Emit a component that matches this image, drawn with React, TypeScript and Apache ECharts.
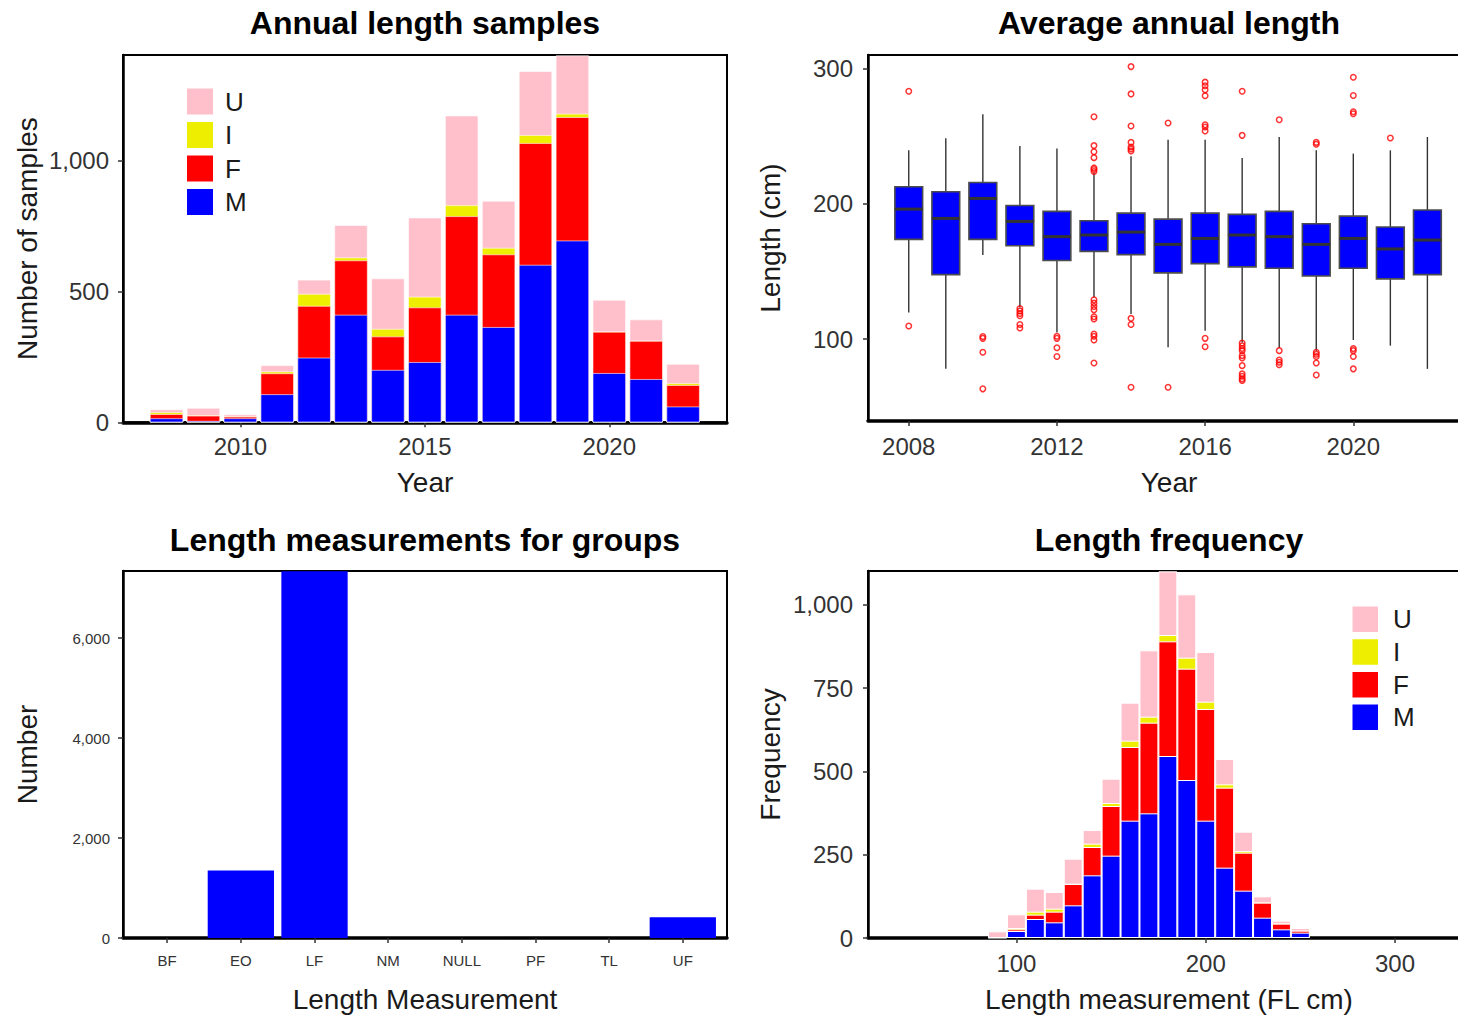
import React, { useEffect, useRef } from 'react';
import * as echarts from 'echarts';

// ---------- Panel 1: Annual length samples ----------
const years = [2008, 2009, 2010, 2011, 2012, 2013, 2014, 2015, 2016, 2017, 2018, 2019, 2020, 2021, 2022];
const samplesM = [15, 5, 15, 107, 247, 411, 200, 230, 411, 364, 602, 695, 188, 165, 60];
const samplesF = [16, 20, 6, 80, 198, 208, 128, 209, 377, 278, 466, 472, 158, 146, 82];
const samplesI = [7, 1, 1, 7, 46, 11, 29, 41, 42, 25, 30, 13, 1, 1, 7];
const samplesU = [11, 29, 8, 24, 54, 124, 193, 303, 343, 180, 245, 223, 121, 81, 74];
const samplesYTicks = [0, 500, 1000];
const samplesXTicks = [2010, 2015, 2020];

// ---------- Panel 2: Average annual length (box plots) ----------
const boxYears = [2008, 2009, 2010, 2011, 2012, 2013, 2014, 2015, 2016, 2017, 2018, 2019, 2020, 2021, 2022];
const whiskerLow = [119.7, 77.9, 162.2, 123.4, 104.9, 130.7, 118.5, 93.9, 106.2, 97.5, 93.4, 91.4, 99.3, 95.1, 77.9];
const quartile1 = [173.8, 147.7, 173.8, 169.1, 158.1, 164.9, 162.5, 149.0, 155.8, 153.4, 152.4, 146.7, 152.4, 144.5, 147.7];
const medians = [196.2, 189.3, 204.1, 187.1, 175.8, 177.0, 179.2, 170.1, 174.5, 177.0, 175.8, 170.1, 174.5, 166.7, 173.3];
const quartile3 = [212.7, 209.0, 215.9, 198.9, 194.5, 187.6, 193.2, 188.8, 193.2, 192.3, 194.5, 185.4, 191.0, 182.9, 195.5];
const whiskerHigh = [239.7, 248.6, 266.5, 242.9, 241.0, 223.0, 235.3, 247.6, 247.6, 234.1, 249.6, 239.7, 237.3, 239.7, 249.6];
const outlierPoints = [
  [2008, 283.5], [2008, 109.6],
  [2010, 101.9], [2010, 100.5], [2010, 90.2], [2010, 63.1],
  [2011, 122.6], [2011, 120.7], [2011, 118.9], [2011, 117.2], [2011, 110.8], [2011, 108.1],
  [2012, 102.0], [2012, 100.5], [2012, 93.6], [2012, 87.0],
  [2013, 264.6], [2013, 243.2], [2013, 238.7], [2013, 234.3], [2013, 226.7], [2013, 225.5], [2013, 224.0],
  [2013, 129.0], [2013, 126.6], [2013, 124.1], [2013, 121.6], [2013, 116.5], [2013, 114.8],
  [2013, 103.7], [2013, 102.0], [2013, 99.3], [2013, 82.3],
  [2014, 301.7], [2014, 281.5], [2014, 257.7], [2014, 245.6], [2014, 242.2], [2014, 240.7], [2014, 239.2],
  [2014, 115.3], [2014, 110.8], [2014, 64.3],
  [2015, 259.9], [2015, 64.3],
  [2016, 290.2], [2016, 287.5], [2016, 284.5], [2016, 280.1], [2016, 258.7], [2016, 257.0], [2016, 254.0],
  [2016, 100.5], [2016, 94.3],
  [2017, 283.5], [2017, 250.8], [2017, 97.0], [2017, 95.0], [2017, 93.0], [2017, 91.4], [2017, 87.7],
  [2017, 86.0], [2017, 80.3], [2017, 74.2], [2017, 72.5], [2017, 70.5], [2017, 69.3],
  [2018, 262.4], [2018, 91.4], [2018, 84.5], [2018, 82.8], [2018, 81.0],
  [2019, 245.6], [2019, 244.2], [2019, 90.2], [2019, 88.7], [2019, 87.0], [2019, 82.3], [2019, 73.4],
  [2020, 293.8], [2020, 280.3], [2020, 268.3], [2020, 266.8], [2020, 92.9], [2020, 91.4], [2020, 87.0], [2020, 77.9],
  [2021, 248.8],
];
const lengthYTicks = [100, 200, 300];
const lengthXTicks = [2008, 2012, 2016, 2020];

// ---------- Panel 3: Length measurements for groups ----------
const measureTypes = ['BF', 'EO', 'LF', 'NM', 'NULL', 'PF', 'TL', 'UF'];
const measureCounts = [0, 1352, 7335, 0, 0, 0, 0, 413];
const measureYTicks = [0, 2000, 4000, 6000];

// ---------- Panel 4: Length frequency ----------
const lengthBins = [90, 100, 110, 120, 130, 140, 150, 160, 170, 180, 190, 200, 210, 220, 230, 240, 250];
const freqM = [1, 21, 57, 47, 98, 188, 247, 352, 374, 546, 474, 352, 211, 142, 61, 26, 16];
const freqF = [2, 5, 13, 32, 64, 85, 149, 221, 272, 344, 334, 335, 240, 114, 45, 17, 6];
const freqI = [0, 4, 9, 9, 1, 10, 9, 19, 18, 19, 33, 22, 10, 5, 1, 1, 0];
const freqU = [17, 41, 69, 50, 75, 41, 73, 114, 199, 191, 190, 149, 76, 58, 18, 8, 8];
const freqYTicks = [0, 250, 500, 750, 1000];
const freqXTicks = [100, 200, 300];

const panelTitles = ['Annual length samples', 'Average annual length', 'Length measurements for groups', 'Length frequency'];
const sexNames = ['U', 'I', 'F', 'M'];
const sexColors: Record<string, string> = { U: '#FFC0CB', I: '#EEEE00', F: '#FF0000', M: '#0000FF' };

const FONT = "'Liberation Sans', Arial, Helvetica, sans-serif";

function cumulative(layers: number[][]): number[][] {
  // running sums: [M, M+F, M+F+I, M+F+I+U]
  const out: number[][] = [];
  let run = layers[0].map(() => 0);
  layers.forEach((l) => {
    run = run.map((v, i) => v + l[i]);
    out.push(run.slice());
  });
  return out;
}

const comma = (v: number) => Math.round(v).toLocaleString('en-US');

function makeStackSeries(xs: number[], layers: { M: number[]; F: number[]; I: number[]; U: number[] }, axisIndex: number, barWidth: string, borderWidth: number) {
  const cum = cumulative([layers.M, layers.F, layers.I, layers.U]);
  const byName: Record<string, number[]> = { M: cum[0], F: cum[1], I: cum[2], U: cum[3] };
  return sexNames.map((name) => ({
    name,
    type: 'bar',
    xAxisIndex: axisIndex,
    yAxisIndex: axisIndex,
    barWidth,
    barGap: '-100%',
    itemStyle: { color: sexColors[name], borderColor: '#ffffff', borderWidth },
    data: xs.map((x, i) => [x, byName[name][i]]),
  }));
}

const tickCommon = { show: true, length: 5, lineStyle: { color: '#333', width: 1.5 } };
const nameStyle = { fontSize: 28, color: '#1a1a1a', fontFamily: FONT };

function xAxisDef(grid: number, min: number, max: number, ticks: number[], name: string, fontSize: number, margin: number, nameGap: number, formatter?: (v: number) => string) {
  return {
    type: 'value', gridIndex: grid, min, max,
    name, nameLocation: 'middle', nameGap, nameTextStyle: nameStyle,
    axisLine: { show: true, onZero: false, lineStyle: { color: '#000', width: 3.5 } },
    axisTick: { ...tickCommon, customValues: ticks },
    axisLabel: { customValues: ticks, fontSize, color: '#333', fontFamily: FONT, margin, formatter: formatter || ((v: number) => String(v)) },
    splitLine: { show: false },
  };
}

function yAxisDef(grid: number, min: number, max: number, ticks: number[], name: string, fontSize: number, margin: number, nameGap: number, formatter?: (v: number) => string) {
  return {
    type: 'value', gridIndex: grid, min, max,
    name, nameLocation: 'middle', nameGap, nameTextStyle: nameStyle,
    axisLine: { show: true, onZero: false, lineStyle: { color: '#000', width: 2.5 } },
    axisTick: { ...tickCommon, customValues: ticks },
    axisLabel: { customValues: ticks, fontSize, color: '#333', fontFamily: FONT, margin, formatter: formatter || ((v: number) => String(v)) },
    splitLine: { show: false },
  };
}

const BOX_WIDTH_YEARS = 0.75;

export default function App() {
  const ref = useRef<HTMLDivElement>(null);

  useEffect(() => {
    document.body.style.margin = '0';
    document.body.style.overflow = 'hidden';
    if (!ref.current) return;
    const chart = echarts.init(ref.current, undefined, { renderer: 'svg' });

    const gridBase = { show: true, borderColor: '#000', borderWidth: 2, backgroundColor: 'transparent' };

    const legendBase = {
      data: sexNames,
      orient: 'vertical',
      icon: 'rect',
      selectedMode: false,
      padding: 0,
    };

    const boxData = boxYears.map((y, i) => [y, whiskerLow[i], quartile1[i], medians[i], quartile3[i], whiskerHigh[i]]);

    const option: any = {
      animation: false,
      backgroundColor: '#ffffff',
      grid: [
        { ...gridBase, left: 123, top: 55, width: 604, height: 367.3 },
        { ...gridBase, left: 868, top: 55, width: 602, height: 366 },
        { ...gridBase, left: 123, top: 571, width: 604, height: 367 },
        { ...gridBase, left: 868, top: 571, width: 602, height: 367 },
      ],
      xAxis: [
        xAxisDef(0, 2006.82, 2023.19, samplesXTicks, 'Year', 24, 12, 46),
        xAxisDef(1, 2006.9, 2023.15, lengthXTicks, 'Year', 24, 13, 47),
        xAxisDef(2, -0.6, 7.6, measureTypes.map((_, i) => i), 'Length Measurement', 15, 15, 47, (v: number) => measureTypes[Math.round(v)] || ''),
        xAxisDef(3, 21.6, 339.6, freqXTicks, 'Length measurement (FL cm)', 24, 13, 47),
      ],
      yAxis: [
        yAxisDef(0, 0, 1405, samplesYTicks, 'Number of samples', 24, 14, 82, comma),
        yAxisDef(1, 39.3, 310.3, lengthYTicks, 'Length (cm)', 24, 15, 84),
        yAxisDef(2, 0, 7340, measureYTicks, 'Number', 15, 13, 82, comma),
        yAxisDef(3, 0, 1101, freqYTicks, 'Frequency', 24, 15, 84, comma),
      ],
      legend: [
        {
          ...legendBase, left: 185, top: 86.5, itemWidth: 28, itemHeight: 28, itemGap: 3.5,
          textStyle: { fontSize: 26, color: '#1a1a1a', fontFamily: FONT, lineHeight: 28, padding: [0, 0, 0, 6] },
        },
        {
          ...legendBase, left: 1350.5, top: 604.5, itemWidth: 27.5, itemHeight: 27.5, itemGap: 3.2,
          textStyle: { fontSize: 26, color: '#1a1a1a', fontFamily: FONT, lineHeight: 27.5, padding: [0, 0, 0, 9] },
        },
      ],
      graphic: [
        { x: 425, y: 23 }, { x: 1169, y: 23 }, { x: 425, y: 540 }, { x: 1169, y: 540 },
      ].map((p, i) => ({
        type: 'text', x: p.x, y: p.y, silent: true,
        style: { text: panelTitles[i], fill: '#000', font: `bold 32px ${FONT}`, textAlign: 'center', textVerticalAlign: 'middle' },
      })),
      series: [
        ...makeStackSeries(years, { M: samplesM, F: samplesF, I: samplesI, U: samplesU }, 0, '90%', 0.6),
        {
          type: 'custom',
          name: 'box',
          xAxisIndex: 1,
          yAxisIndex: 1,
          encode: { x: 0, y: [1, 2, 3, 4, 5] },
          data: boxData,
          renderItem: (params: any, api: any) => {
            const x = api.value(0);
            const lo = api.coord([x, api.value(1)]);
            const b1 = api.coord([x, api.value(2)]);
            const md = api.coord([x, api.value(3)]);
            const b3 = api.coord([x, api.value(4)]);
            const hi = api.coord([x, api.value(5)]);
            const w = api.size([BOX_WIDTH_YEARS, 0])[0];
            const cx = lo[0];
            return {
              type: 'group',
              children: [
                { type: 'line', shape: { x1: cx, y1: hi[1], x2: cx, y2: b3[1] }, style: { stroke: '#333', lineWidth: 1.4 } },
                { type: 'line', shape: { x1: cx, y1: b1[1], x2: cx, y2: lo[1] }, style: { stroke: '#333', lineWidth: 1.4 } },
                { type: 'rect', shape: { x: cx - w / 2, y: b3[1], width: w, height: b1[1] - b3[1] }, style: { fill: '#0000FF', stroke: '#4d4d4d', lineWidth: 1.6 } },
                { type: 'line', shape: { x1: cx - w / 2, y1: md[1], x2: cx + w / 2, y2: md[1] }, style: { stroke: '#333', lineWidth: 3 } },
              ],
            };
          },
        },
        {
          type: 'scatter',
          name: 'outliers',
          xAxisIndex: 1,
          yAxisIndex: 1,
          symbol: 'circle',
          symbolSize: 5.5,
          itemStyle: { color: 'rgba(0,0,0,0)', borderColor: '#FF0000', borderWidth: 1.5 },
          data: outlierPoints,
        },
        {
          type: 'bar',
          name: 'measurements',
          xAxisIndex: 2,
          yAxisIndex: 2,
          barWidth: '90%',
          itemStyle: { color: '#0000FF', borderWidth: 0 },
          data: measureCounts.map((v, i) => [i, v]),
        },
        ...makeStackSeries(lengthBins, { M: freqM, F: freqF, I: freqI, U: freqU }, 3, '100%', 1),
      ],
    };

    chart.setOption(option);
    return () => chart.dispose();
  }, []);

  return (
    <div style={{ position: 'absolute', left: 0, top: 0, width: 1458, height: 1016, overflow: 'hidden', background: '#fff' }}>
      <div ref={ref} style={{ width: 1490, height: 1016 }} />
    </div>
  );
}
